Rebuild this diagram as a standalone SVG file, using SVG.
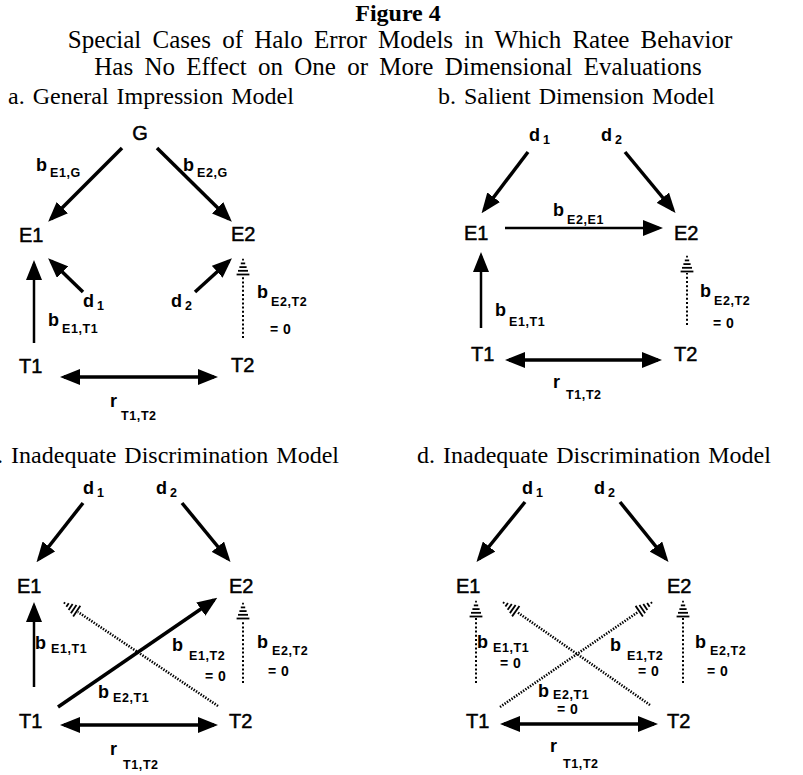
<svg xmlns="http://www.w3.org/2000/svg" width="803" height="775" viewBox="0 0 803 775">
<style>
text{fill:#000}
.t1{font-family:"Liberation Serif","Times New Roman",serif;font-size:24px;font-weight:bold}
.t2{font-family:"Liberation Serif","Times New Roman",serif;font-size:25px;word-spacing:5px}
.hd{font-family:"Liberation Serif","Times New Roman",serif;font-size:24px;word-spacing:2px}
.nd{font-family:"Liberation Sans",Arial,sans-serif;font-size:20px;stroke:#000;stroke-width:0.5}
.lb{font-family:"Liberation Sans",Arial,sans-serif;font-size:18px;font-weight:bold}
.sb{font-family:"Liberation Sans",Arial,sans-serif;font-size:12.5px;font-weight:bold;letter-spacing:0.6px}
.eq{font-family:"Liberation Sans",Arial,sans-serif;font-size:14px;font-weight:bold;word-spacing:1px}
.s{fill:none;stroke:#000;stroke-width:3.5;marker-end:url(#ah)}
.m{fill:none;stroke:#000;stroke-width:2.5;marker-end:url(#ah)}
.dbl{fill:none;stroke:#000;stroke-width:3.5;marker-end:url(#ah);marker-start:url(#ah)}
.dv{fill:none;stroke:#000;stroke-width:2;stroke-dasharray:2 2.2;marker-end:url(#hh)}
.dd{fill:none;stroke:#000;stroke-width:2.6;stroke-dasharray:1.4 1.4;marker-end:url(#hh)}
</style>
<defs>
<marker id="ah" viewBox="0 0 20 16" refX="16" refY="8" markerWidth="20" markerHeight="16" markerUnits="userSpaceOnUse" orient="auto-start-reverse">
<path d="M0,0 L20,8 L0,16 z" fill="#000"/>
</marker>
<marker id="hh" viewBox="0 -8 20 16" refX="0" refY="0" markerWidth="20" markerHeight="16" markerUnits="userSpaceOnUse" orient="auto" overflow="visible">
<g stroke="#000" stroke-width="1.8">
<line x1="1.5" y1="-6.4" x2="1.5" y2="6.4"/>
<line x1="5.2" y1="-5" x2="5.2" y2="5"/>
<line x1="8.9" y1="-3.6" x2="8.9" y2="3.6"/>
<line x1="12.6" y1="-2.2" x2="12.6" y2="2.2"/>
<line x1="16.3" y1="-0.9" x2="16.3" y2="0.9"/>
</g>
</marker>
</defs>

<g id="title">
<text class="t1" x="398" y="21" text-anchor="middle">Figure 4</text>
<text class="t2" x="400" y="48" text-anchor="middle">Special Cases of Halo Error Models in Which Ratee Behavior</text>
<text class="t2" x="398" y="75" text-anchor="middle">Has No Effect on One or More Dimensional Evaluations</text>
<text class="hd" x="8" y="104">a. General Impression Model</text>
<text class="hd" x="438" y="104">b. Salient Dimension Model</text>
<text class="hd" x="339" y="463" text-anchor="end">c. Inadequate Discrimination Model</text>
<text class="hd" x="417" y="463">d. Inadequate Discrimination Model</text>
</g>

<!-- Panel a nodes -->
<g id="a-G"><text class="nd" x="140" y="140" text-anchor="middle">G</text></g>
<g id="a-E1"><text class="nd" x="19" y="242">E1</text></g>
<g id="a-E2"><text class="nd" x="231" y="241">E2</text></g>
<g id="a-T1"><text class="nd" x="19" y="373">T1</text></g>
<g id="a-T2"><text class="nd" x="231" y="372">T2</text></g>
<g id="a-d1"><text class="lb" x="83" y="307">d<tspan class="sb" dx="3" dy="3">1</tspan></text></g>
<g id="a-d2"><text class="lb" x="171" y="307">d<tspan class="sb" dx="3" dy="3">2</tspan></text></g>

<!-- Panel b nodes -->
<g id="b-d1"><text class="lb" x="529" y="141">d<tspan class="sb" dx="3" dy="3">1</tspan></text></g>
<g id="b-d2"><text class="lb" x="601" y="141">d<tspan class="sb" dx="3" dy="3">2</tspan></text></g>
<g id="b-E1"><text class="nd" x="464" y="240">E1</text></g>
<g id="b-E2"><text class="nd" x="674" y="240">E2</text></g>
<g id="b-T1"><text class="nd" x="471" y="361">T1</text></g>
<g id="b-T2"><text class="nd" x="674" y="361">T2</text></g>

<!-- Panel c nodes -->
<g id="c-d1"><text class="lb" x="83" y="494">d<tspan class="sb" dx="3" dy="3">1</tspan></text></g>
<g id="c-d2"><text class="lb" x="156" y="494">d<tspan class="sb" dx="3" dy="3">2</tspan></text></g>
<g id="c-E1"><text class="nd" x="17" y="593">E1</text></g>
<g id="c-E2"><text class="nd" x="229" y="593">E2</text></g>
<g id="c-T1"><text class="nd" x="19" y="728">T1</text></g>
<g id="c-T2"><text class="nd" x="229" y="728">T2</text></g>

<!-- Panel d nodes -->
<g id="d-d1"><text class="lb" x="522" y="494">d<tspan class="sb" dx="3" dy="3">1</tspan></text></g>
<g id="d-d2"><text class="lb" x="594" y="494">d<tspan class="sb" dx="3" dy="3">2</tspan></text></g>
<g id="d-E1"><text class="nd" x="456" y="593">E1</text></g>
<g id="d-E2"><text class="nd" x="667" y="593">E2</text></g>
<g id="d-T1"><text class="nd" x="466" y="728">T1</text></g>
<g id="d-T2"><text class="nd" x="667" y="728">T2</text></g>

<g id="connectors">
<!-- a -->
<line class="s" x1="122" y1="148" x2="51" y2="219"/>
<line class="s" x1="157" y1="148" x2="229" y2="219"/>
<line class="m" x1="34" y1="343" x2="34" y2="264"/>
<line class="s" x1="83" y1="292" x2="51" y2="261"/>
<line class="s" x1="195" y1="292" x2="229" y2="261"/>
<line class="dv" x1="243" y1="338" x2="243" y2="276"/>
<line class="dbl" x1="64" y1="377" x2="214" y2="377"/>
<!-- b -->
<line class="s" x1="528" y1="152" x2="484" y2="210"/>
<line class="s" x1="625" y1="152" x2="673" y2="210"/>
<line class="m" x1="505" y1="228" x2="659" y2="228"/>
<line class="m" x1="481" y1="328" x2="481" y2="256"/>
<line class="dv" x1="687" y1="325" x2="687" y2="273"/>
<line class="dbl" x1="509" y1="360" x2="658" y2="360"/>
<!-- c -->
<line class="s" x1="83" y1="503" x2="39" y2="559"/>
<line class="s" x1="182" y1="503" x2="228" y2="559"/>
<line class="m" x1="34" y1="687" x2="34" y2="606"/>
<line class="s" x1="58" y1="707" x2="214" y2="600"/>
<line class="dd" x1="218" y1="706" x2="78" y2="612"/>
<line class="dv" x1="243" y1="683" x2="243" y2="620"/>
<line class="dbl" x1="64" y1="725" x2="214" y2="725"/>
<!-- d -->
<line class="s" x1="525" y1="502" x2="479" y2="559"/>
<line class="s" x1="620" y1="502" x2="666" y2="559"/>
<line class="dv" x1="476" y1="683" x2="476" y2="618"/>
<line class="dd" x1="500" y1="707" x2="638" y2="612"/>
<line class="dd" x1="650" y1="705" x2="517" y2="612"/>
<line class="dv" x1="683" y1="683" x2="683" y2="618"/>
<line class="dbl" x1="504" y1="724" x2="654" y2="724"/>
</g>

<g id="labels">
<!-- a -->
<text class="lb" x="36" y="171">b<tspan class="sb" dx="3" dy="6">E1,G</tspan></text>
<text class="lb" x="183" y="171">b<tspan class="sb" dx="3" dy="6">E2,G</tspan></text>
<text class="lb" x="48" y="326">b<tspan class="sb" dx="3" dy="7">E1,T1</tspan></text>
<text class="lb" x="257" y="298">b<tspan class="sb" dx="3" dy="8">E2,T2</tspan></text>
<text class="eq" x="270" y="334">= 0</text>
<text class="lb" x="110" y="407">r<tspan class="sb" dx="4" dy="13">T1,T2</tspan></text>
<!-- b -->
<text class="lb" x="553" y="216">b<tspan class="sb" dx="3" dy="8">E2,E1</tspan></text>
<text class="lb" x="495" y="316">b<tspan class="sb" dx="3" dy="10">E1,T1</tspan></text>
<text class="lb" x="700" y="297">b<tspan class="sb" dx="3" dy="8">E2,T2</tspan></text>
<text class="eq" x="713" y="328">= 0</text>
<text class="lb" x="553" y="388">r<tspan class="sb" dx="6" dy="11">T1,T2</tspan></text>
<!-- c -->
<text class="lb" x="35" y="649">b<tspan class="sb" dx="5" dy="4">E1,T1</tspan></text>
<text class="lb" x="172" y="651">b<tspan class="sb" dx="6" dy="9">E1,T2</tspan></text>
<text class="eq" x="205" y="681">= 0</text>
<text class="lb" x="257" y="648">b<tspan class="sb" dx="4" dy="7">E2,T2</tspan></text>
<text class="eq" x="268" y="676">= 0</text>
<text class="lb" x="98" y="698">b<tspan class="sb" dx="4" dy="4">E2,T1</tspan></text>
<text class="lb" x="110" y="755">r<tspan class="sb" dx="6" dy="14">T1,T2</tspan></text>
<!-- d -->
<text class="lb" x="477" y="648">b<tspan class="sb" dx="5" dy="4">E1,T1</tspan></text>
<text class="eq" x="500" y="668">= 0</text>
<text class="lb" x="610" y="651">b<tspan class="sb" dx="6" dy="9">E1,T2</tspan></text>
<text class="eq" x="638" y="676">= 0</text>
<text class="lb" x="695" y="648">b<tspan class="sb" dx="4" dy="7">E2,T2</tspan></text>
<text class="eq" x="707" y="676">= 0</text>
<text class="lb" x="538" y="697">b<tspan class="sb" dx="4" dy="2">E2,T1</tspan></text>
<text class="eq" x="557" y="714">= 0</text>
<text class="lb" x="550" y="752">r<tspan class="sb" dx="6" dy="16">T1,T2</tspan></text>
</g>
</svg>
